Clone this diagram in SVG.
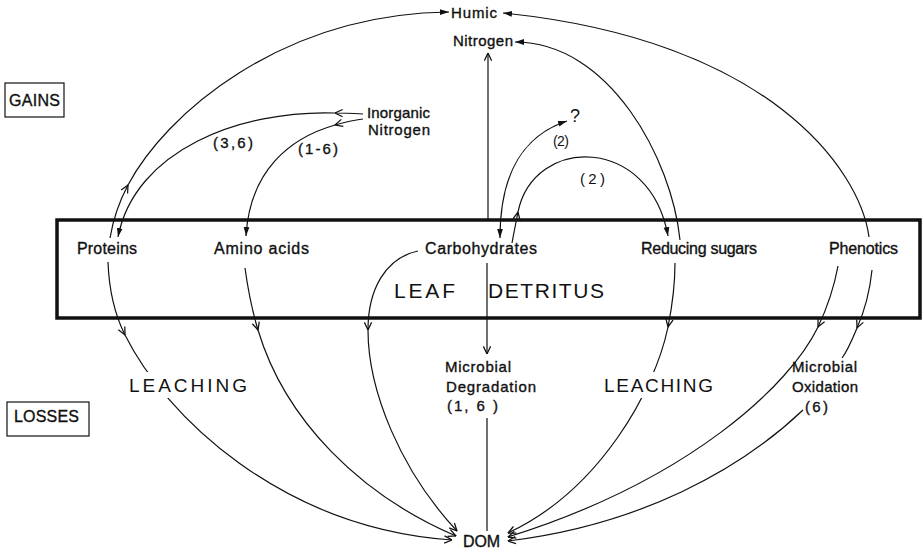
<svg xmlns="http://www.w3.org/2000/svg" width="923" height="550" viewBox="0 0 923 550">
<style>
.t{font-family:"Liberation Sans",Arial,sans-serif;fill:#111;}
.w{stroke:#111;stroke-width:0.35;}
.lbl{font-size:16px;}
.sm{font-size:15px;}
.big{font-size:21px;}
.lea{font-size:19px;}
.c{fill:none;stroke:#111;stroke-width:1.2;}
.box{fill:none;stroke:#111;stroke-width:1.2;}
</style>
<defs>
<marker id="oa" viewBox="0 0 10 10" refX="9.5" refY="5" markerWidth="9" markerHeight="9" markerUnits="userSpaceOnUse" orient="auto"><path d="M1,1 L9.5,5 L1,9" fill="none" stroke="#111" stroke-width="1.4"/></marker>
<marker id="fa" viewBox="0 0 10 10" refX="10" refY="5" markerWidth="9" markerHeight="9" markerUnits="userSpaceOnUse" orient="auto"><path d="M0,1.8 L10,5 L0,8.2 z" fill="#111"/></marker>
<marker id="fas" viewBox="0 0 10 10" refX="10" refY="5" markerWidth="9" markerHeight="9" markerUnits="userSpaceOnUse" orient="auto-start-reverse"><path d="M0,1.8 L10,5 L0,8.2 z" fill="#111"/></marker>
</defs>
<rect width="923" height="550" fill="#fff"/>

<g id="leaf-detritus">
<rect x="57" y="220" width="863" height="98" fill="none" stroke="#111" stroke-width="3.5"/>
<text class="t big" x="394" y="298" textLength="61" lengthAdjust="spacing">LEAF</text>
<text class="t big" x="488" y="298" textLength="116" lengthAdjust="spacing">DETRITUS</text>
</g>

<g id="connectors">
<!-- Proteins -> Humic -->
<path class="c" d="M110,238 C113,220 119,202 128,185 C165,115 280,14 449,12" marker-mid="url(#oa)" marker-end="url(#fa)"/>
<!-- Inorganic Nitrogen -> Proteins -->
<path class="c" d="M363,114 C354,113.5 345,113 335,113 C240,110 135,150 118,237" marker-mid="url(#oa)" marker-end="url(#fa)"/>
<!-- Inorganic Nitrogen -> Amino acids -->
<path class="c" d="M363,119 C354,120 345,122 335,125 C290,138 250,170 246,236" marker-mid="url(#oa)" marker-end="url(#fa)"/>
<!-- Carbohydrates -> Nitrogen -->
<path class="c" d="M488,220 L488,53" stroke-width="1.5" marker-end="url(#oa)"/>
<!-- ? <-> Carbohydrates -->
<path class="c" d="M567,121 C525,135 500,170 500,238" marker-start="url(#fas)" marker-end="url(#fa)"/>
<!-- Carbohydrates -> Reducing sugars -->
<path class="c" d="M512,243 C514,232 516,222 518,212 C534,135 650,135 668,236" marker-mid="url(#oa)" marker-end="url(#fa)"/>
<!-- Reducing sugars -> Nitrogen -->
<path class="c" d="M680,240 C672,160 610,42 515,42" marker-end="url(#fa)"/>
<!-- Phenotics -> Humic -->
<path class="c" d="M869,237 C860,170 770,40 503,13" marker-end="url(#fa)"/>
<!-- Proteins -> DOM -->
<path class="c" d="M108,262 C109,290 114,313 125,335 C165,415 280,528 452,540" marker-mid="url(#oa)" marker-end="url(#oa)"/>
<!-- Amino acids -> DOM -->
<path class="c" d="M245,268 C248,290 252,310 258,330 C285,420 360,495 456,536" marker-mid="url(#oa)" marker-end="url(#oa)"/>
<!-- Carbohydrates -> DOM -->
<path class="c" d="M418,251 C385,258 368,290 368,330 C368,390 400,470 457,531" marker-mid="url(#oa)" marker-end="url(#oa)"/>
<!-- Carbohydrates -> Microbial Degradation -> DOM -->
<path class="c" d="M487,263 L487,354" marker-end="url(#oa)"/>
<path class="c" d="M487,418 L487,531"/>
<!-- Reducing sugars -> DOM -->
<path class="c" d="M675,263 C675,285 672,307 668,327 C655,390 600,490 508,533" marker-mid="url(#oa)" marker-end="url(#oa)"/>
<!-- Phenotics -> DOM -->
<path class="c" d="M838,266 C834,288 827,308 818,327 C790,385 690,480 508,537" marker-mid="url(#oa)" marker-end="url(#oa)"/>
<!-- Phenotics -> Microbial Oxidation -> DOM -->
<path class="c" d="M872,270 C870,290 865,310 857,328 C852,340 848,350 842,358" marker-mid="url(#oa)"/>
<path class="c" d="M803,410 C740,470 640,525 508,541" marker-end="url(#oa)"/>
</g>

<g id="connector-labels">
<rect x="125" y="372" width="126" height="26" fill="#fff"/>
<text class="t lea" x="129" y="392" textLength="118" lengthAdjust="spacing">LEACHING</text>
<rect x="600" y="372" width="117" height="26" fill="#fff"/>
<text class="t lea" x="604" y="392" textLength="109" lengthAdjust="spacing">LEACHING</text>
<text class="t sm w" x="213" y="148" textLength="40" lengthAdjust="spacing">(3,6)</text>
<text class="t sm w" x="298" y="154" textLength="40" lengthAdjust="spacing">(1-6)</text>
<text class="t" font-size="14" x="553" y="146" textLength="16" lengthAdjust="spacing">(2)</text>
<text class="t sm" x="580" y="184" textLength="25" lengthAdjust="spacing">(2)</text>
<text class="t" font-size="18" x="570" y="122">?</text>
</g>

<g id="gains"><rect class="box" x="5" y="83" width="59" height="34"/><text class="t lbl w" x="9" y="106" textLength="51" lengthAdjust="spacing">GAINS</text></g>
<g id="losses"><rect class="box" x="7" y="402" width="82" height="34"/><text class="t lbl w" x="14" y="422" textLength="65" lengthAdjust="spacing">LOSSES</text></g>
<g id="humic"><text class="t sm w" x="451" y="18" textLength="46" lengthAdjust="spacing">Humic</text></g>
<g id="nitrogen"><text class="t sm w" x="453" y="46" textLength="60" lengthAdjust="spacing">Nitrogen</text></g>
<g id="inorganic-nitrogen">
<text class="t sm w" x="367" y="118" textLength="63" lengthAdjust="spacing">Inorganic</text>
<text class="t sm w" x="368" y="135" textLength="62" lengthAdjust="spacing">Nitrogen</text>
</g>
<g id="proteins"><text class="t lbl w" x="77" y="254" textLength="60" lengthAdjust="spacing">Proteins</text></g>
<g id="amino-acids"><text class="t lbl w" x="214" y="254" textLength="95" lengthAdjust="spacing">Amino acids</text></g>
<g id="carbohydrates"><text class="t lbl w" x="425" y="254" textLength="112" lengthAdjust="spacing">Carbohydrates</text></g>
<g id="reducing-sugars"><text class="t lbl w" x="641" y="254" textLength="116" lengthAdjust="spacing">Reducing sugars</text></g>
<g id="phenotics"><text class="t lbl w" x="829" y="254" textLength="69" lengthAdjust="spacing">Phenotics</text></g>
<g id="microbial-degradation">
<text class="t sm w" x="445" y="372" textLength="66" lengthAdjust="spacing">Microbial</text>
<text class="t sm w" x="446" y="392" textLength="90" lengthAdjust="spacing">Degradation</text>
<text class="t sm w" x="447" y="411" textLength="51" lengthAdjust="spacing">(1, 6 )</text>
</g>
<g id="microbial-oxidation">
<text class="t sm w" x="792" y="372" textLength="65" lengthAdjust="spacing">Microbial</text>
<text class="t sm w" x="792" y="392" textLength="66" lengthAdjust="spacing">Oxidation</text>
<text class="t sm w" x="805" y="412" textLength="23" lengthAdjust="spacing">(6)</text>
</g>
<g id="dom"><text class="t lbl w" x="463" y="547" textLength="37" lengthAdjust="spacing">DOM</text></g>
</svg>
